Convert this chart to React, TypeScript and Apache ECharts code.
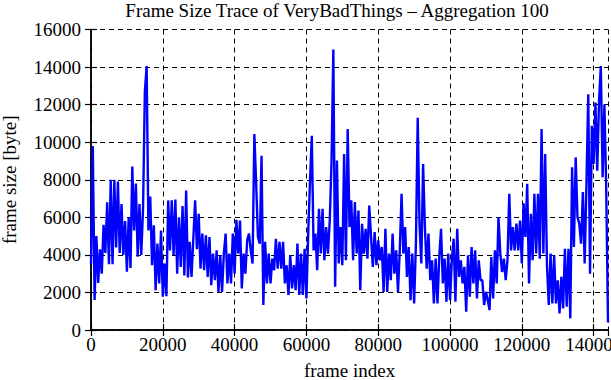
import React, { useEffect, useRef } from "react";
import * as echarts from "echarts";

const titleText = "Frame Size Trace of VeryBadThings \u2013 Aggregation 100";
const xName = "frame index";
const yName = "frame size [byte]";
const frameStep = 500;
const xMax = 144000;
const xInterval = 20000;
const yMax = 16000;
const yInterval = 2000;

// frame size (byte) every 500 frames
const frameSizes = [
  3500, 9800, 1600, 5000, 2500, 4300, 3000, 5600, 4100, 6800,
  3500, 8000, 3500, 8000, 4400, 7900, 4100, 6700, 4000, 5800,
  3100, 6000, 3300, 8700, 5300, 7800, 3900, 6700, 4000, 6500,
  12700, 14050, 5300, 7100, 3450, 5570, 2120, 4600, 2480, 5300,
  1770, 3540, 1800, 6900, 4240, 6900, 4000, 6950, 3000, 6000,
  3360, 6600, 2900, 7430, 2800, 4700, 2830, 4860, 6900, 4300,
  6190, 3270, 5130, 3180, 5040, 2830, 4950, 2390, 4070, 2650,
  4240, 2030, 3980, 2030, 4070, 5130, 2480, 4070, 2480, 5130,
  3000, 5870, 4070, 5830, 2210, 4070, 3000, 4770, 5130, 4240,
  3540, 10430, 7780, 4950, 4600, 9280, 1330, 4700, 2480, 4070,
  2480, 3800, 3180, 4860, 3270, 4690, 3270, 4690, 2480, 3450,
  1860, 3980, 2210, 3450, 2120, 4600, 1860, 4070, 1860, 4330,
  1680, 5130, 7950, 10340, 4240, 5130, 3180, 6450, 4070, 6450,
  3710, 5480, 4070, 5830, 9020, 14940, 2300, 9020, 3540, 5480,
  3450, 9370, 3710, 10700, 5480, 6900, 3710, 6810, 4070, 6360,
  2120, 5660, 4070, 5390, 3800, 6630, 4950, 3360, 5210, 3450,
  4770, 3710, 4420, 2030, 5390, 2030, 4070, 2650, 5130, 3000,
  4240, 2030, 4240, 7250, 4070, 5480, 2830, 4420, 1590, 4070,
  1410, 4600, 11300, 5660, 3540, 8840, 5480, 3270, 5130, 2650,
  3710, 1410, 3800, 1410, 3890, 5390, 2480, 3800, 1500, 4070,
  1590, 3710, 4860, 1500, 5390, 2830, 3710, 2480, 3360, 970,
  3980, 1770, 4420, 2480, 4240, 1680, 3710, 2650, 2650, 1330,
  2030, 1590, 1060, 3890, 1680, 4240, 2480, 6010, 4070, 3090,
  3800, 2650, 3710, 7250, 4240, 5480, 4240, 5660, 4240, 5830,
  3540, 6750, 4950, 7780, 2480, 6190, 3710, 7250, 4070, 7250,
  3800, 10700, 4070, 9370, 3450, 1330, 4070, 1410, 3980, 1410,
  2650, 880, 2830, 1150, 4330, 1240, 4330, 620, 8660, 4420,
  9190, 6010, 5660, 4600, 7340, 3540, 7780, 12550, 3000, 10870,
  8840, 12110, 8480, 12190, 14050, 8130, 12000, 7600, 400,
];

const FONT = "Liberation Serif";

export default function App() {
  const ref = useRef<HTMLDivElement>(null);
  useEffect(() => {
    if (!ref.current) return;
    const chart = echarts.init(ref.current, undefined, { renderer: "svg" });
    const data = frameSizes.map((v, i) => [i * frameStep, v]);
    const axisCommon = {
      axisLine: { show: true, lineStyle: { color: "#000", width: 1.5 } },
      axisTick: { show: true, inside: true, length: 6, lineStyle: { color: "#000", width: 1.2 } },
    };
    const plain = (v: number) => String(v);
    chart.setOption({
      animation: false,
      backgroundColor: "#fff",
      grid: { left: 91, right: 3, top: 29.5, bottom: 50, show: false, outerBoundsMode: "none", containLabel: false },
      graphic: [
        {
          type: "text",
          x: 337,
          y: 1,
          style: {
            text: titleText,
            fontFamily: FONT,
            fontSize: 19,
            fill: "#000",
            textAlign: "center",
            textVerticalAlign: "top",
          },
        },
      ],
      xAxis: [
        {
          type: "value",
          min: 0,
          max: xMax,
          interval: xInterval,
          position: "bottom",
          name: xName,
          nameLocation: "middle",
          nameGap: 31,
          nameTextStyle: { fontFamily: FONT, fontSize: 19, color: "#000" },
          ...axisCommon,
          axisLabel: {
            showMaxLabel: false,
            formatter: plain,
            fontFamily: FONT,
            fontSize: 19,
            color: "#000",
            margin: 5,
          },
          splitLine: { show: true, lineStyle: { color: "#000", type: [5, 4], width: 1 } },
        },
        {
          type: "value",
          min: 0,
          max: xMax,
          interval: xInterval,
          position: "top",
          ...axisCommon,
          axisLabel: { show: false },
          splitLine: { show: false },
        },
      ],
      yAxis: [
        {
          type: "value",
          min: 0,
          max: yMax,
          interval: yInterval,
          position: "left",
          name: yName,
          nameLocation: "middle",
          nameGap: 72,
          nameTextStyle: { fontFamily: FONT, fontSize: 19, color: "#000" },
          ...axisCommon,
          axisLabel: { formatter: plain, fontFamily: FONT, fontSize: 19, color: "#000", margin: 10 },
          splitLine: { show: true, lineStyle: { color: "#000", type: [5, 4], width: 1 } },
        },
        {
          type: "value",
          min: 0,
          max: yMax,
          interval: yInterval,
          position: "right",
          ...axisCommon,
          axisLabel: { show: false },
          splitLine: { show: false },
        },
      ],
      series: [
        {
          type: "line",
          data,
          showSymbol: false,
          symbol: "none",
          lineStyle: { color: "#0000ff", width: 2.4 },
          clip: true,
        },
      ],
    });
    return () => chart.dispose();
  }, []);
  return <div ref={ref} style={{ width: 611, height: 380, position: "absolute", left: 0, top: 0 }} />;
}
